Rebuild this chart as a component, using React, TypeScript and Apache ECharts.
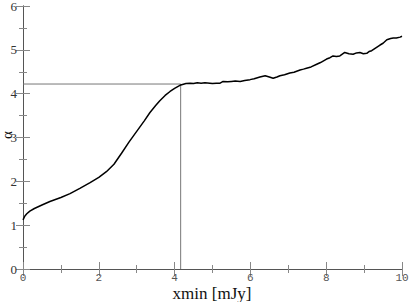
import React, { useEffect, useRef } from "react";
import * as echarts from "echarts";

const xValues: number[] = [
  0, 0.05, 0.1, 0.18, 0.3, 0.5, 0.71, 1.0, 1.24, 1.5, 1.77, 2.0, 2.2, 2.4, 2.6, 2.8,
  3.0, 3.2, 3.35, 3.5, 3.61, 3.75, 3.88, 4.0, 4.14, 4.3, 4.41, 4.5, 4.6, 4.7, 4.8,
  4.93, 5.0, 5.1, 5.2, 5.28, 5.4, 5.5, 5.6, 5.73, 5.85, 5.99, 6.1, 6.25, 6.39, 6.5,
  6.6, 6.7, 6.78, 6.9, 7.04, 7.15, 7.31, 7.4, 7.48, 7.6, 7.75, 7.85, 8.01, 8.1, 8.18,
  8.27, 8.36, 8.49, 8.6, 8.71, 8.8, 8.89, 8.98, 9.07, 9.13, 9.2, 9.3, 9.42, 9.5, 9.6,
  9.7, 9.77, 9.85, 9.95, 10.0,
];
const alphaValues: number[] = [
  1.12, 1.21, 1.26, 1.32, 1.38, 1.46, 1.54, 1.63, 1.72, 1.84, 1.97, 2.09, 2.22, 2.39, 2.64, 2.9,
  3.14, 3.38, 3.57, 3.73, 3.84, 3.96, 4.05, 4.12, 4.19, 4.23, 4.24, 4.23, 4.25, 4.24, 4.25,
  4.24, 4.23, 4.24, 4.24, 4.28, 4.27, 4.28, 4.29, 4.28, 4.3, 4.32, 4.34, 4.38, 4.41, 4.38,
  4.35, 4.38, 4.41, 4.43, 4.47, 4.49, 4.54, 4.56, 4.58, 4.61, 4.67, 4.71, 4.79, 4.82, 4.86,
  4.85, 4.86, 4.94, 4.91, 4.9, 4.93, 4.94, 4.91, 4.92, 4.96, 4.98, 5.04, 5.11, 5.15, 5.23,
  5.26, 5.27, 5.27, 5.29, 5.31,
];
const markX = 4.16;
const markY = 4.22;
const xTicks = { min: 0, max: 10, interval: 2 };
const yTicks = { min: 0, max: 6, interval: 1 };
const xTitle = "xmin [mJy]";
const yTitle = "α";

export default function App() {
  const ref = useRef<HTMLDivElement>(null);
  useEffect(() => {
    document.body.style.margin = "0";
    const chart = echarts.init(ref.current!, null, { renderer: "svg" });
    const axisLine = { show: true, lineStyle: { color: "#555", width: 1 } };
    const tick = { show: true, inside: true, length: 7, lineStyle: { color: "#888" } };
    const minor = { show: true, splitNumber: 2, length: 4, lineStyle: { color: "#888" } };
    chart.setOption({
      animation: false,
      grid: { left: 23, right: 7, top: 6, bottom: 33, containLabel: false, outerBoundsMode: "none" },
      graphic: [
        {
          type: "text", x: 212, y: 293,
          style: { text: xTitle, font: "17px 'Liberation Serif'", fill: "#111", align: "center", verticalAlign: "middle" },
        },
        {
          type: "text", x: 7, y: 135, rotation: Math.PI / 2,
          style: { text: yTitle, font: "15px 'Liberation Serif'", lineHeight: 12, fill: "#111", align: "center", verticalAlign: "middle" },
        },
      ],
      xAxis: [
        {
          type: "value", ...xTicks, position: "bottom",
          axisLine, axisTick: tick, minorTick: minor, splitLine: { show: false },
          axisLabel: { fontFamily: "Liberation Mono", fontSize: 11, color: "#555", margin: 3 },
        },
        {
          type: "value", ...xTicks, position: "top",
          axisLine, axisTick: tick, minorTick: minor, splitLine: { show: false },
          axisLabel: { show: false },
        },
      ],
      yAxis: [
        {
          type: "value", ...yTicks, position: "left",
          axisLine, axisTick: tick, minorTick: minor, splitLine: { show: false },
          axisLabel: { fontFamily: "Liberation Serif", fontSize: 13, color: "#333", margin: 6 },
        },
        {
          type: "value", ...yTicks, position: "right",
          axisLine, axisTick: tick, minorTick: minor, splitLine: { show: false },
          axisLabel: { show: false },
        },
      ],
      series: [
        {
          type: "line",
          data: [[0, markY], [markX, markY], [markX, 0]],
          symbol: "none",
          lineStyle: { color: "#777", width: 1 },
          silent: true,
        },
        {
          type: "line",
          data: xValues.map((x, i) => [x, alphaValues[i]]),
          symbol: "none",
          lineStyle: { color: "#000", width: 1.5 },
        },
      ],
    });
    return () => chart.dispose();
  }, []);
  return <div ref={ref} style={{ width: 409, height: 302 }} />;
}
